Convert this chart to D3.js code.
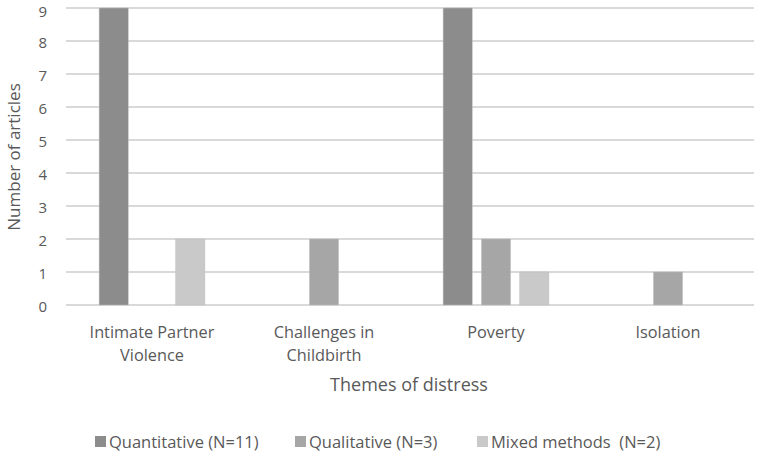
<!DOCTYPE html>
<html><head><meta charset="utf-8">
<script src="https://cdn.jsdelivr.net/npm/d3@7"></script>
<style>body{margin:0;background:#fff}text{font-family:"Open Sans",sans-serif;fill:#595959}</style>
</head><body>
<svg id="c" width="760" height="455"></svg>
<script>
const categories = [["Intimate Partner","Violence"],["Challenges in","Childbirth"],["Poverty"],["Isolation"]];
const seriesNames = ["Quantitative (N=11)","Qualitative (N=3)","Mixed methods\u00a0\u00a0(N=2)"];
const quantitative = [9,0,9,0];
const qualitative = [0,2,2,1];
const mixed = [2,0,1,0];
const yTicks = [0,1,2,3,4,5,6,7,8,9];
const colors = ["#8c8c8c","#a6a6a6","#c9c9c9"];

const values = [quantitative, qualitative, mixed];
const svg = d3.select("#c");
const m = {l:66, r:754, t:8, b:305};
const catKeys = categories.map(c=>c.join(" "));
const x0 = d3.scaleBand().domain(catKeys).range([m.l,m.r]);
const x1 = d3.scaleBand().domain(d3.range(3)).range([0,x0.bandwidth()]).paddingInner(0.24).paddingOuter(0.864);
const y = d3.scaleLinear().domain([0,9]).range([m.b,m.t]);

svg.append("g").selectAll("line").data(yTicks).join("line")
  .attr("x1",m.l).attr("x2",m.r).attr("y1",d=>y(d)).attr("y2",d=>y(d))
  .attr("stroke","#d9d9d9").attr("stroke-width",2);

svg.append("g").selectAll("text").data(yTicks).join("text")
  .attr("x",47).attr("y",d=>Math.max(y(d)+6.5,16.5)).attr("text-anchor","end")
  .attr("font-size",15).text(d=>d);

values.forEach((vals,si)=>{
  svg.append("g").selectAll("rect").data(vals.map((v,i)=>({v,i}))).join("rect")
    .filter(d=>d.v>0)
    .attr("x",d=>x0(catKeys[d.i])+x1(si)).attr("width",x1.bandwidth())
    .attr("y",d=>y(d.v)).attr("height",d=>y(0)-y(d.v))
    .attr("fill",colors[si]).attr("stroke","#bdbdbd").attr("stroke-width",0.5);
});

const cl = svg.append("g").selectAll("text").data(categories).join("text")
  .attr("x",(d,i)=>x0(catKeys[i])+x0.bandwidth()/2).attr("y",338)
  .attr("text-anchor","middle").attr("font-size",16.3);
cl.each(function(d){
  d3.select(this).selectAll("tspan").data(d).join("tspan")
    .attr("x",d3.select(this).attr("x")).attr("dy",(t,j)=>j?"1.4em":0).text(t=>t);
});

svg.append("text").attr("x",409).attr("y",391).attr("text-anchor","middle")
  .attr("font-size",18).text("Themes of distress");
svg.append("text").attr("transform","translate(20,157) rotate(-90)").attr("text-anchor","middle")
  .attr("font-size",17).text("Number of articles");

const legX = [95,295,477];
const lg = svg.append("g").selectAll("g").data(seriesNames).join("g")
  .attr("transform",(d,i)=>`translate(${legX[i]},442)`);
lg.append("rect").attr("x",0).attr("y",-6).attr("width",11).attr("height",11).attr("fill",(d,i)=>colors[i]);
lg.append("text").attr("x",14).attr("y",0).attr("dy","0.35em").attr("font-size",16.5).text(d=>d);
</script>
</body></html>
